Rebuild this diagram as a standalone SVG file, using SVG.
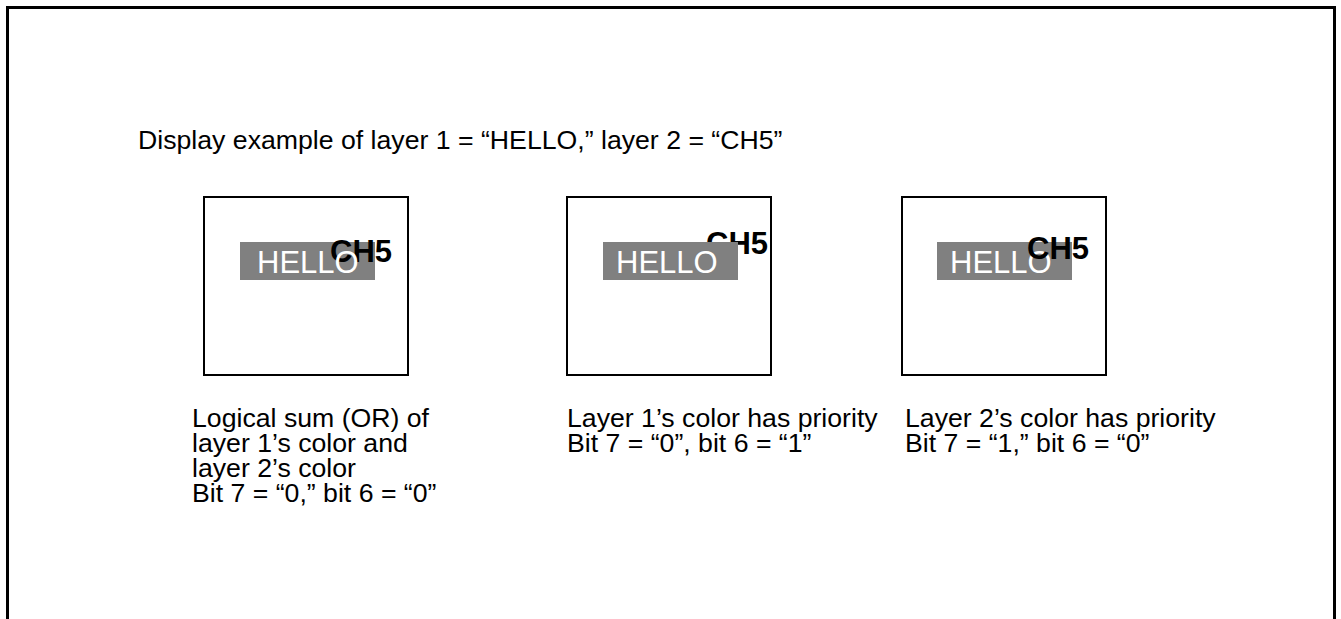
<svg xmlns="http://www.w3.org/2000/svg" width="1341" height="619" viewBox="0 0 1341 619">
<style>
.frame{fill:none;stroke:#000;stroke-width:3}
.box{fill:#fff;stroke:#000;stroke-width:2}
.bar{fill:#808080}
.hello{font-family:"Liberation Sans",Arial,sans-serif;font-size:31px;fill:#fff}
.ch5{font-family:"Liberation Sans",Arial,sans-serif;font-size:31px;font-weight:bold;fill:#000}
.t{font-family:"Liberation Sans",Arial,sans-serif;font-size:26.67px;fill:#000}
</style>
<rect x="0" y="0" width="1341" height="619" fill="#fff"/>
<rect class="frame" x="7.5" y="7.5" width="1327" height="640"/>
<text class="t" x="138" y="149">Display example of layer 1 = “HELLO,” layer 2 = “CH5”</text>
<g id="node-or">
<rect class="box" x="204" y="197" width="204" height="178"/>
<rect class="bar" x="240" y="242" width="135" height="38"/>
<text class="ch5" x="330" y="262">CH5</text>
<text class="hello" x="257" y="273">HELLO</text>
<text class="t" x="192" y="427">Logical sum (OR) of</text>
<text class="t" x="192" y="452">layer 1’s color and</text>
<text class="t" x="192" y="477">layer 2’s color</text>
<text class="t" x="192" y="502">Bit 7 = “0,” bit 6 = “0”</text>
</g>
<g id="node-layer1">
<rect class="box" x="567" y="197" width="204" height="178"/>
<text class="ch5" x="706" y="254">CH5</text>
<rect class="bar" x="603" y="242" width="135" height="38"/>
<text class="hello" x="616" y="273">HELLO</text>
<text class="t" x="567" y="427">Layer 1’s color has priority</text>
<text class="t" x="567" y="452">Bit 7 = “0”, bit 6 = “1”</text>
</g>
<g id="node-layer2">
<rect class="box" x="902" y="197" width="204" height="178"/>
<rect class="bar" x="937" y="242" width="135" height="38"/>
<text class="hello" x="950" y="273">HELLO</text>
<text class="ch5" x="1027" y="259">CH5</text>
<text class="t" x="905" y="427">Layer 2’s color has priority</text>
<text class="t" x="905" y="452">Bit 7 = “1,” bit 6 = “0”</text>
</g>
<g id="connectors"></g>
</svg>
